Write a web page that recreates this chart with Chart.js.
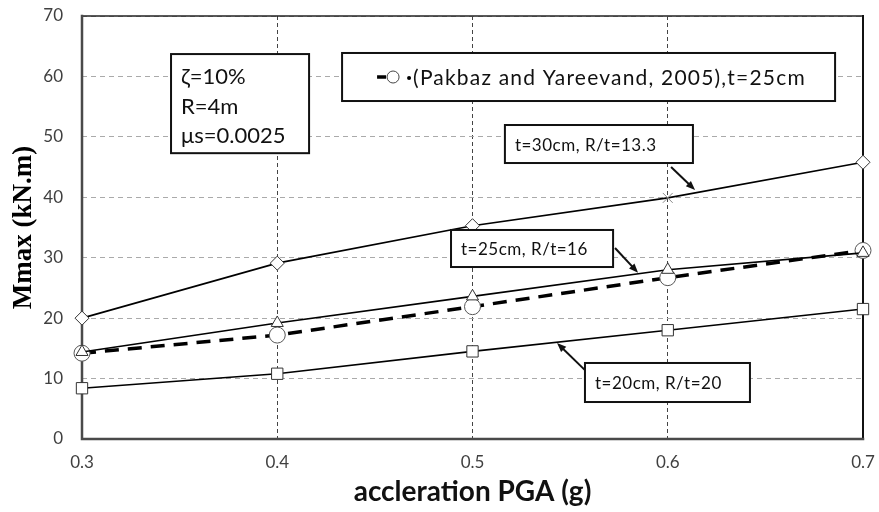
<!DOCTYPE html>
<html>
<head>
<meta charset="utf-8">
<script src="https://cdn.jsdelivr.net/npm/chart.js@4.4.1/dist/chart.umd.min.js"></script>
<style>
  html, body { margin: 0; padding: 0; background: #fff; }
  #wrap { width: 879px; height: 512px; }
</style>
</head>
<body>
<div id="wrap"><canvas id="chart"></canvas></div>
<script>
// values
const pga = [0.3, 0.4, 0.5, 0.6, 0.7];
const t30 = [20.0, 29.1, 35.3, 39.9, 45.8];
const t25 = [14.4, 19.2, 23.6, 28.0, 30.8];
const pakbaz = [14.2, 17.2, 21.9, 26.7, 31.2];
const t20 = [8.4, 10.8, 14.5, 18.0, 21.5];
const t30Markers = ['rectRot', 'rectRot', 'rectRot', 'crossRot', 'rectRot'];

const xTickLabels = ['0.3', '0.4', '0.5', '0.6', '0.7'];
const yTickLabels = ['0', '10', '20', '30', '40', '50', '60', '70'];

const paramLines = ['ζ=10%', 'R=4m', 'μs=0.0025'];
const legendText = '(Pakbaz and Yareevand, 2005),t=25cm';
const noteTexts = ['t=30cm, R/t=13.3', 't=25cm, R/t=16', 't=20cm, R/t=20'];
// boxes and arrows placed in data units: [x1, y1, x2, y2]
const noteBoxes = [[0.5166, 51.96, 0.6129, 45.67], [0.4890, 34.59, 0.5720, 28.46], [0.5576, 12.58, 0.6421, 6.12]];
const noteArrows = [[0.6017, 45.0, 0.6140, 41.2], [0.5730, 31.6, 0.5848, 27.5], [0.5576, 11.4, 0.5433, 15.9]];
const paramBox = [0.3456, 63.7, 0.4163, 47.3];
const legendBox = [0.4332, 63.88, 0.6857, 55.93];

const SANS = 'Lato, "Open Sans", "DejaVu Sans", sans-serif';

function pts(ys) {
  return pga.map((x, i) => ({ x: x, y: ys[i] }));
}

function boxPx(chart, b) {
  const xs = chart.scales.x, ys = chart.scales.y;
  const x1 = xs.getPixelForValue(b[0]), y1 = ys.getPixelForValue(b[1]);
  const x2 = xs.getPixelForValue(b[2]), y2 = ys.getPixelForValue(b[3]);
  return { x: x1, y: y1, w: x2 - x1, h: y2 - y1 };
}

function drawBox(ctx, r) {
  ctx.fillStyle = '#fff';
  ctx.fillRect(r.x, r.y, r.w, r.h);
  ctx.lineWidth = 2;
  ctx.strokeStyle = '#111';
  ctx.strokeRect(r.x, r.y, r.w, r.h);
}

function drawArrow(ctx, x1, y1, x2, y2) {
  const a = Math.atan2(y2 - y1, x2 - x1);
  const len = 10, spread = 0.38;
  ctx.strokeStyle = '#111';
  ctx.fillStyle = '#111';
  ctx.lineWidth = 2;
  ctx.beginPath();
  ctx.moveTo(x1, y1);
  ctx.lineTo(x2 - Math.cos(a) * 4, y2 - Math.sin(a) * 4);
  ctx.stroke();
  ctx.beginPath();
  ctx.moveTo(x2, y2);
  ctx.lineTo(x2 - len * Math.cos(a - spread), y2 - len * Math.sin(a - spread));
  ctx.lineTo(x2 - len * Math.cos(a + spread), y2 - len * Math.sin(a + spread));
  ctx.closePath();
  ctx.fill();
}

// no extra room for edge tick labels, the layout padding covers it
function noEdgePadding(s) {
  s.paddingTop = 0;
  s.paddingBottom = 0;
  s.paddingLeft = 0;
  s.paddingRight = 0;
}

const overlay = {
  id: 'overlay',
  beforeDatasetsDraw(chart) {
    const ctx = chart.ctx, ca = chart.chartArea;
    ctx.save();
    ctx.lineCap = 'square';
    // top and right edges
    ctx.strokeStyle = '#222';
    ctx.lineWidth = 1.5;
    ctx.beginPath();
    ctx.moveTo(ca.left, ca.top);
    ctx.lineTo(ca.right, ca.top);
    ctx.stroke();
    ctx.lineWidth = 2;
    ctx.strokeStyle = '#111';
    ctx.beginPath();
    ctx.moveTo(ca.right, ca.top);
    ctx.lineTo(ca.right, ca.bottom);
    ctx.stroke();
    // left and bottom axes
    ctx.strokeStyle = '#4a4a4a';
    ctx.lineWidth = 2.5;
    ctx.beginPath();
    ctx.moveTo(ca.left, ca.top);
    ctx.lineTo(ca.left, ca.bottom);
    ctx.lineTo(ca.right, ca.bottom);
    ctx.stroke();
    ctx.restore();
  },
  afterDatasetsDraw(chart) {
    const ctx = chart.ctx;
    ctx.save();
    ctx.textBaseline = 'middle';
    ctx.textAlign = 'left';

    // parameter box
    const pb = boxPx(chart, paramBox);
    drawBox(ctx, pb);
    ctx.fillStyle = '#111';
    ctx.font = '22px ' + SANS;
    paramLines.forEach((s, i) => ctx.fillText(s, pb.x + 10, pb.y + 23 + i * 29.5));

    // legend box
    const lb = boxPx(chart, legendBox);
    drawBox(ctx, lb);
    const ly = lb.y + lb.h / 2;
    const lx = lb.x + 35;
    ctx.strokeStyle = '#000';
    ctx.lineWidth = 3.5;
    ctx.beginPath();
    ctx.moveTo(lx, ly);
    ctx.lineTo(lx + 9, ly);
    ctx.stroke();
    ctx.beginPath();
    ctx.arc(lx + 16, ly, 6, 0, Math.PI * 2);
    ctx.fillStyle = '#fff';
    ctx.fill();
    ctx.lineWidth = 1;
    ctx.strokeStyle = '#444';
    ctx.stroke();
    ctx.fillStyle = '#000';
    ctx.beginPath();
    ctx.arc(lx + 32, ly + 1, 2, 0, Math.PI * 2);
    ctx.fill();
    ctx.fillStyle = '#111';
    ctx.font = '21px ' + SANS;
    ctx.letterSpacing = '1.2px';
    ctx.fillText(legendText, lx + 36, ly + 1);

    // annotation boxes with arrows
    const xs = chart.scales.x, ys = chart.scales.y;
    noteTexts.forEach((s, i) => {
      const a = noteArrows[i];
      drawArrow(ctx, xs.getPixelForValue(a[0]), ys.getPixelForValue(a[1]),
        xs.getPixelForValue(a[2]), ys.getPixelForValue(a[3]));
      const r = boxPx(chart, noteBoxes[i]);
      drawBox(ctx, r);
      ctx.fillStyle = '#111';
      ctx.font = '17px ' + SANS;
      ctx.letterSpacing = '0.5px';
      ctx.fillText(s, r.x + 10, r.y + r.h / 2 + 1);
    });
    ctx.letterSpacing = '0px';
    ctx.restore();
  }
};

const markerBase = {
  pointBackgroundColor: '#fff',
  pointBorderColor: '#333',
  pointBorderWidth: 1,
  pointHoverRadius: 0,
  borderColor: '#000',
  borderWidth: 1.6,
  tension: 0,
  fill: false,
  clip: false
};

new Chart(document.getElementById('chart'), {
  type: 'line',
  data: {
    datasets: [
      Object.assign({}, markerBase, {
        label: 't=30cm, R/t=13.3', data: pts(t30),
        pointStyle: t30Markers, pointRadius: 7,
        pointBorderColor: ['#333', '#333', '#333', '#888', '#333']
      }),
      Object.assign({}, markerBase, {
        label: 't=25cm, R/t=16', data: pts(t25),
        pointStyle: 'triangle', pointRadius: 7
      }),
      Object.assign({}, markerBase, {
        label: legendText, data: pts(pakbaz),
        pointStyle: 'circle', pointRadius: 8, pointBorderColor: '#555',
        borderWidth: 3.5, borderDash: [14, 9]
      }),
      Object.assign({}, markerBase, {
        label: 't=20cm, R/t=20', data: pts(t20),
        pointStyle: 'rect', pointRadius: 8
      })
    ]
  },
  options: {
    responsive: true,
    maintainAspectRatio: false,
    animation: false,
    events: [],
    layout: { padding: { top: 16, right: 16, left: 0, bottom: 0 } },
    plugins: {
      legend: { display: false },
      tooltip: { enabled: false }
    },
    scales: {
      x: {
        type: 'linear',
        min: 0.3,
        max: 0.7,
        afterFit: (s) => { s.height = 73; noEdgePadding(s); },
        afterBuildTicks: (s) => { s.ticks = pga.map(v => ({ value: v })); },
        ticks: {
          padding: 13,
          color: '#404040',
          font: { family: SANS, size: 17 },
          callback: (v, i) => xTickLabels[i]
        },
        grid: { color: '#444', lineWidth: 1, drawTicks: false },
        border: { display: false, dash: [4, 3] },
        title: {
          display: true,
          text: 'accleration PGA (g)',
          color: '#111',
          font: { family: SANS, size: 28, weight: 'bold' },
          padding: { top: 0, bottom: 3 }
        }
      },
      y: {
        min: 0,
        max: 70,
        afterFit: (s) => { s.width = 82; noEdgePadding(s); },
        afterBuildTicks: (s) => { s.ticks = yTickLabels.map(t => ({ value: Number(t) })); },
        ticks: {
          padding: 19,
          color: '#404040',
          font: { family: SANS, size: 17 },
          callback: (v, i) => yTickLabels[i]
        },
        grid: { color: '#aaa', lineWidth: 1, drawTicks: false },
        border: { display: false, dash: [5, 4] },
        title: {
          display: true,
          text: 'Mmax (kN.m)',
          color: '#000',
          font: { family: '"Liberation Serif", "Times New Roman", serif', size: 27, weight: 'bold' },
          padding: { top: 8, bottom: 0 }
        }
      }
    }
  },
  plugins: [overlay]
});
</script>
</body>
</html>
